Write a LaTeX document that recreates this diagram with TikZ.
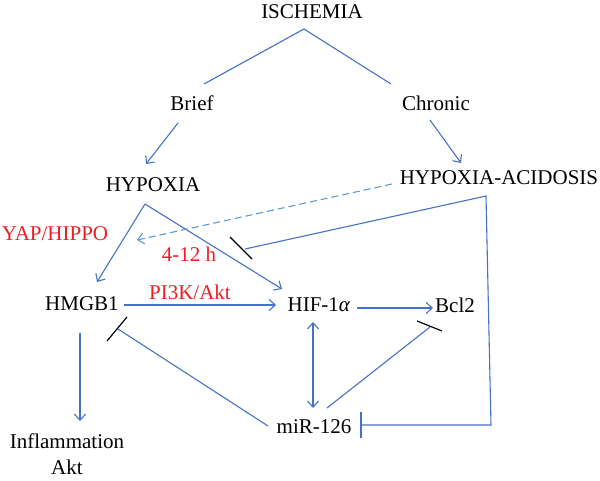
\documentclass[tikz,border=0pt]{standalone}
\usepackage{fontspec}
\setmainfont{Liberation Serif}
\usetikzlibrary{arrows.meta}
\definecolor{lblue}{RGB}{68,114,196}
\definecolor{dblue}{RGB}{91,155,213}
\definecolor{lred}{RGB}{235,30,35}
\tikzset{
  lbl/.style={font=\fontsize{21}{26}\selectfont, inner sep=0pt, text=black, align=center},
  redlbl/.style={lbl, text=lred},
  conn/.style={draw=lblue, line width=1.1pt},
  arr/.style={conn, -{Straight Barb[length=6pt,width=11pt]}},
  darr/.style={conn, {Straight Barb[length=6pt,width=11pt]}-{Straight Barb[length=6pt,width=11pt]}},
  dasharr/.style={draw=dblue, line width=1.1pt, dash pattern=on 7pt off 4pt, -{Straight Barb[length=6pt,width=11pt]}},
  inhbar/.style={draw=black, line width=1.2pt},
  bluebar/.style={draw=lblue, line width=1.1pt}
}
\begin{document}
\begin{tikzpicture}[x=1pt,y=-1pt]
\useasboundingbox (0,0) rectangle (600,481);
% nodes
\node[lbl] (isch) at (312,12) {ISCHEMIA};
\node[lbl] (brief) at (192,103) {Brief};
\node[lbl] (chronic) at (436,103) {Chronic};
\node[lbl] (hypoxia) at (153,185) {HYPOXIA};
\node[lbl] (hypac) at (499,178) {HYPOXIA-ACIDOSIS};
\node[redlbl] (yap) at (55,234) {YAP/HIPPO};
\node[redlbl] (h412) at (189,254) {4-12 h};
\node[redlbl] (pi3k) at (190,292) {PI3K/Akt};
\node[lbl] (hmgb1) at (82,304) {HMGB1};
\node[lbl] (hif) at (319,305) {HIF-1\textit{α}};
\node[lbl] (bcl2) at (455,305) {Bcl2};
\node[lbl] (mir) at (314,427) {miR-126};
\node[lbl] (infl) at (67,454) {Inflammation\\Akt};
% coordinates
\coordinate (ap1) at (304,29);
\coordinate (b1) at (204,84);
\coordinate (c1) at (391,84);
\coordinate (b2) at (178,123);
\coordinate (b3) at (146,164);
\coordinate (c2) at (430,120);
\coordinate (c3) at (461,163);
\coordinate (ap2) at (145,204);
\coordinate (h1) at (97,282);
\coordinate (h2) at (282,289);
\coordinate (d1) at (392,184);
\coordinate (d2) at (137,240);
\coordinate (ha1) at (486,196);
\coordinate (ha2) at (245,249);
\coordinate (bar1a) at (230,237);
\coordinate (bar1b) at (252,259);
\coordinate (ha3) at (491,425);
\coordinate (m1) at (361,425);
\coordinate (bar2a) at (361,412);
\coordinate (bar2b) at (361,438);
\coordinate (e1) at (124,305);
\coordinate (e2) at (276,305);
\coordinate (f1) at (357,308);
\coordinate (f2) at (433,308);
\coordinate (g1) at (313,322);
\coordinate (g2) at (313,408);
\coordinate (k1) at (327,408);
\coordinate (k2) at (430,327);
\coordinate (bar3a) at (417,321);
\coordinate (bar3b) at (442,331);
\coordinate (l1) at (268,426);
\coordinate (l2) at (118,329);
\coordinate (bar4a) at (127,317);
\coordinate (bar4b) at (107,341);
\coordinate (i1) at (80,333);
\coordinate (i2) at (80,421);
% connectors
\draw[conn] (b1) -- (ap1) -- (c1);
\draw[arr] (b2) -- (b3);
\draw[arr] (c2) -- (c3);
\draw[arr] (ap2) -- (h1);
\draw[arr] (ap2) -- (h2);
\draw[dasharr] (d1) -- (d2);
\draw[conn] (ha2) -- (ha1) -- (ha3) -- (m1);
\draw[inhbar] (bar1a) -- (bar1b);
\draw[bluebar] (bar2a) -- (bar2b);
\draw[arr] (e1) -- (e2);
\draw[arr] (f1) -- (f2);
\draw[darr] (g1) -- (g2);
\draw[conn] (k1) -- (k2);
\draw[inhbar] (bar3a) -- (bar3b);
\draw[conn] (l1) -- (l2);
\draw[inhbar] (bar4a) -- (bar4b);
\draw[arr] (i1) -- (i2);
\end{tikzpicture}
\end{document}
